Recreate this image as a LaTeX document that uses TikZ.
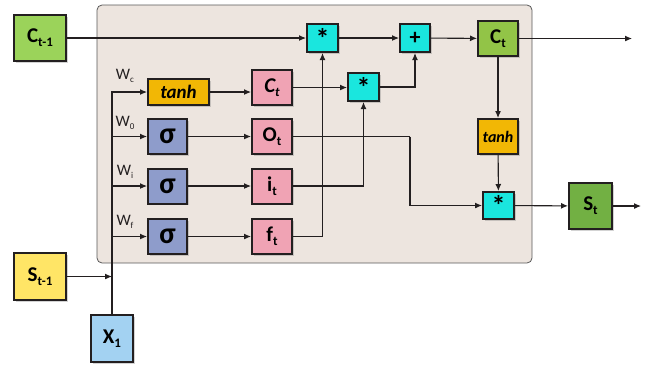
\documentclass[tikz,border=0pt]{standalone}
\usepackage{fontspec}
\setmainfont{Carlito}
\usetikzlibrary{arrows.meta,shadows,calc}
\definecolor{lgreen}{HTML}{9BD35A}
\definecolor{mgreen}{HTML}{92C447}
\definecolor{dgreen}{HTML}{72B043}
\definecolor{yel}{HTML}{FFE566}
\definecolor{lblue}{HTML}{A3D2F2}
\definecolor{gold}{HTML}{F2B705}
\definecolor{sig}{HTML}{8E9CCB}
\definecolor{pink}{HTML}{F0A3B4}
\definecolor{cyanb}{HTML}{1AE6DE}
\definecolor{panel}{HTML}{EDE5DF}
\definecolor{ink}{HTML}{231F20}
\newcommand\sbx[1]{\raisebox{-0.2em}{\fontsize{13}{13}\selectfont #1}}
\newcommand\sbw[1]{\raisebox{-0.15em}{\fontsize{9}{9}\selectfont #1}}
\tikzset{
  box/.style={draw=ink, line width=2pt, inner sep=0pt, font=\fontsize{21}{21}\selectfont\bfseries,
    drop shadow={shadow xshift=1.5pt,shadow yshift=-1.5pt,opacity=0.35}},
  opbox/.style={box, fill=cyanb, minimum width=31pt, minimum height=28pt, font=\fontsize{28}{28}\selectfont\bfseries},
  gatebox/.style={box, minimum width=40pt, minimum height=35pt},
  sigbox/.style={gatebox, fill=sig, minimum width=39pt, font=\fontsize{30}{30}\selectfont\bfseries},
  arr/.style={draw=ink, line width=1.1pt, -{Latex[length=7pt,width=6pt]}},
  ln/.style={draw=ink, line width=1.1pt},
  wlab/.style={font=\fontsize{16}{16}\selectfont, text=ink, inner sep=0pt}
}
\begin{document}
\begin{tikzpicture}[x=1pt,y=-1pt]
\useasboundingbox (0,0) rectangle (652,365);
\draw[fill=panel, draw=black!65, line width=0.8pt, rounded corners=5pt] (97,5) rectangle (532,263);

% nodes
\node[box, fill=lgreen, minimum width=52pt, minimum height=46pt] (cprev) at (40,38) {C\sbx{t-1}};
\node[opbox] (m1) at (322.5,38) {\raisebox{-0.3em}{*}};
\node[opbox, minimum width=30pt, font=\fontsize{22}{22}\selectfont\bfseries] (pl) at (415,38) {+};
\node[gatebox, fill=mgreen] (ct) at (498,38.5) {C\sbx{t}};
\node[opbox] (m2) at (363.5,87) {\raisebox{-0.3em}{*}};
\node[gatebox, fill=gold, font=\fontsize{16}{16}\selectfont\bfseries\itshape] (th2) at (498,136.5) {tanh};
\node[opbox, minimum height=27pt] (m3) at (498.5,205.5) {\raisebox{-0.3em}{*}};
\node[box, fill=dgreen, minimum width=43pt, minimum height=46pt] (st) at (590.5,206) {S\sbx{t}};

\node[box, fill=gold, minimum width=61pt, minimum height=26pt, font=\fontsize{19}{19}\selectfont\bfseries\itshape] (th1) at (178.5,92) {tanh};
\node[gatebox, fill=pink, font=\fontsize{21}{21}\selectfont\bfseries\itshape] (cpink) at (272,87.5) {C\sbx{t}};
\node[sigbox] (s1) at (167.5,136.5) {σ};
\node[gatebox, fill=pink] (ot) at (272,136.5) {O\sbx{t}};
\node[sigbox] (s2) at (167.5,186) {σ};
\node[gatebox, fill=pink] (it) at (272,186) {i\sbx{t}};
\node[sigbox] (s3) at (167.5,236.5) {σ};
\node[gatebox, fill=pink] (ft) at (272,236.5) {f\sbx{t}};

\node[box, fill=yel, minimum width=52pt, minimum height=47pt] (sprev) at (40,276.5) {S\sbx{t-1}};
\node[box, fill=lblue, minimum width=42pt, minimum height=47pt] (x1) at (112,338.5) {X\sbx{1}};

% weight labels
\node[wlab] (wc) at (125,76) {W\sbw{c}};
\node[wlab] (w0) at (125,123) {W\sbw{0}};
\node[wlab] (wi) at (125,172) {W\sbw{i}};
\node[wlab] (wf) at (125,222) {W\sbw{f}};

% coordinates
\coordinate (ctout) at (632,38.5);
\coordinate (stout) at (641,206);
\coordinate (okink) at (410,136.5);

% connectors
\draw[arr] (x1.north) |- (th1.west);
\draw[arr] (x1.north |- s1.west) -- (s1.west);
\draw[arr] (x1.north |- s2.west) -- (s2.west);
\draw[arr] (x1.north |- s3.west) -- (s3.west);
\draw[arr] (sprev.east) -- (x1.north |- sprev.east);

\draw[arr] (th1.east) -- (th1.east -| cpink.west);
\draw[arr] (s1) -- (ot);
\draw[arr] (s2) -- (it);
\draw[arr] (s3) -- (ft);

\draw[arr] (cprev.east) -- (m1.west);
\draw[arr] (ft.east) -| (m1.south);
\draw[arr] (cpink.east) -- (cpink.east -| m2.west);
\draw[arr] (it.east) -| (m2.south);
\draw[arr] (m1) -- (pl);
\draw[arr] (m2.east) -| (pl.south);
\draw[arr] (pl) -- (ct);
\draw[arr] (ct.east) -- (ctout);
\draw[arr] (ct) -- (th2);
\draw[arr] (th2) -- (m3);
\draw[ln] (ot.east) -- (okink);
\draw[arr] (okink) |- (m3.west);
\draw[arr] (m3) -- (st);
\draw[arr] (st.east) -- (stout);
\end{tikzpicture}
\end{document}
